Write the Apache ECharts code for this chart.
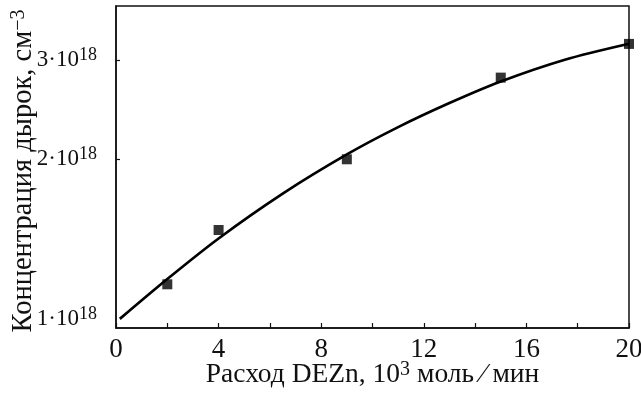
<!DOCTYPE html>
<html>
<head>
<meta charset="utf-8">
<script src="https://cdn.jsdelivr.net/npm/echarts@6/dist/echarts.min.js"></script>
<style>
  html, body { margin: 0; padding: 0; background: #fff; }
  #chart { width: 641px; height: 394px; }
</style>
</head>
<body>
<div id="chart"></div>
<script>
// measured points (DEZn flow, hole concentration in 1e18 cm^-3)
var pointX = [2, 4, 9, 15, 20];
var pointY = [1.196, 1.494, 1.996, 2.789, 3.202];

// fitted curve
var curveX = [0.15, 2, 4, 6.5, 9, 11, 13, 15, 17.5, 20];
var curveY = [1.038, 1.222, 1.443, 1.734, 2.036, 2.277, 2.513, 2.745, 3.001, 3.204];

var yTicks = [1, 2, 3];
var E18 = 1e18;

var font = '"Liberation Serif", "DejaVu Serif", serif';

function pairs(xs, ys) {
  return xs.map(function (x, i) { return [x, ys[i] * E18]; });
}

var chart = echarts.init(document.getElementById('chart'));
var option = {
  animation: false,
  grid: {
    left: 116, right: 12, top: 6, bottom: 66,
    outerBoundsMode: 'none',
    containLabel: false,
    show: true, borderColor: '#111', borderWidth: 1.5
  },
  xAxis: {
    type: 'value',
    min: 0, max: 20, interval: 4,
    name: 'Расход DEZn, 10{sup|3} моль ∕ мин',
    nameLocation: 'middle',
    nameGap: 32,
    nameMoveOverlap: false,
    nameTextStyle: {
      fontFamily: font, fontSize: 27.5, color: '#111',
      rich: { sup: { fontFamily: font, fontSize: 20, color: '#111', padding: [0, 0, 10, 0] } }
    },
    axisLine: { lineStyle: { color: '#111', width: 1.5 } },
    axisTick: { inside: true, length: 5, lineStyle: { color: '#111', width: 1.2 } },
    minorTick: { show: true, splitNumber: 2, length: 5, lineStyle: { color: '#111', width: 1.2 } },
    axisLabel: { fontFamily: font, fontSize: 27, color: '#111', margin: 8 },
    splitLine: { show: false }
  },
  yAxis: {
    type: 'log',
    min: 1 * E18, max: 3.74 * E18,
    name: 'Концентрация дырок, см{sup|−3}',
    nameLocation: 'middle',
    nameGap: 77,
    nameMoveOverlap: false,
    nameTextStyle: {
      fontFamily: font, fontSize: 28.5, color: '#111',
      padding: [0, 8, 0, 0],
      rich: { sup: { fontFamily: font, fontSize: 20, color: '#111', padding: [0, 0, 10, 0] } }
    },
    axisLine: { lineStyle: { color: '#111', width: 1.5 } },
    axisTick: {
      inside: true, length: 4,
      customValues: [2 * E18, 3 * E18],
      lineStyle: { color: '#111', width: 1.2 }
    },
    minorTick: { show: false },
    splitLine: { show: false },
    axisLabel: {
      customValues: yTicks.map(function (v) { return v * E18; }),
      margin: 19,
      formatter: function (v) {
        var n = Math.round(v / E18);
        if (n === 1) return '{lo|' + n + '·10}{losup|18}';
        return '{m|' + n + '·10}{sup|18}';
      },
      rich: {
        m: { fontFamily: font, fontSize: 23, color: '#111' },
        sup: { fontFamily: font, fontSize: 18, color: '#111', padding: [0, 0, 9, 0] },
        lo: { fontFamily: font, fontSize: 23, color: '#111', padding: [0, 0, 18, 0] },
        losup: { fontFamily: font, fontSize: 18, color: '#111', padding: [0, 0, 27, 0] }
      }
    }
  },
  series: [
    {
      type: 'line',
      data: pairs(curveX, curveY),
      smooth: 0.3,
      showSymbol: false,
      lineStyle: { color: '#000', width: 2.7 },
      z: 2
    },
    {
      type: 'scatter',
      data: pairs(pointX, pointY),
      symbol: 'rect',
      symbolSize: 10,
      itemStyle: { color: '#000' },
      z: 3
    }
  ]
};
chart.setOption(option);
</script>
</body>
</html>
